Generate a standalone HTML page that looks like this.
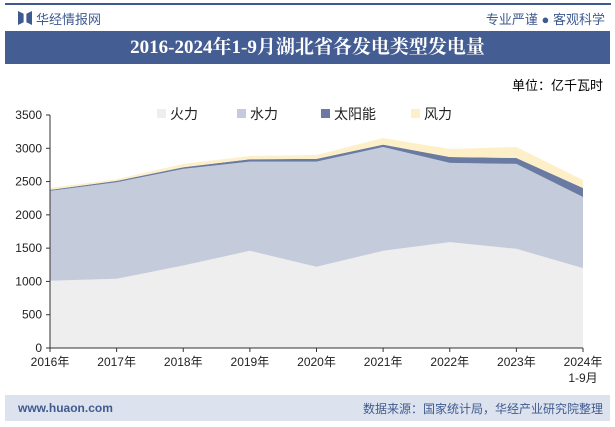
<!DOCTYPE html>
<html><head><meta charset="utf-8"><style>
body{margin:0;width:615px;height:427px;background:#fff;font-family:"Liberation Sans","Noto Sans CJK SC",sans-serif;overflow:hidden;position:relative}
.abs{position:absolute}
</style></head><body>
<div class="abs" style="left:5px;top:3px;width:606px;height:2px;background:#3f5a8f"></div>
<div class="abs" style="left:18px;top:11px;width:14px;height:14px;background:#3f5a8f;clip-path:polygon(0 0,40% 20%,40% 80%,0 100%,0 0,100% 0,100% 100%,60% 80%,60% 20%,100% 0)"></div>
<div class="abs" style="left:36px;top:9px;font-size:13px;color:#3f5a8f">华经情报网</div>
<div class="abs" style="right:10px;top:9px;font-size:13px;color:#3f5a8f">专业严谨 ● 客观科学</div>
<div class="abs" style="left:5px;top:31px;width:605px;height:33px;background:#445d92;color:#fff;font-family:'Liberation Serif','Noto Serif CJK SC',serif;font-weight:bold;font-size:19px;text-align:center;line-height:33px">2016-2024年1-9月湖北省各发电类型发电量</div>
<div class="abs" style="right:12px;top:75px;font-size:13px">单位：亿千瓦时</div>
<svg class="abs" style="left:0;top:0" width="615" height="427" id="chart"></svg>
<div class="abs" style="left:5px;top:395px;width:605px;height:26px;background:#dde3ee"></div>
<div class="abs" style="left:18px;top:401px;font-size:12px;color:#3f5a8f;font-weight:bold">www.huaon.com</div>
<div class="abs" style="right:12px;top:400px;font-size:12px;color:#3f5a8f">数据来源：国家统计局，华经产业研究院整理</div>
<script>
const categories=["2016年","2017年","2018年","2019年","2020年","2021年","2022年","2023年","2024年"];
const thermal=[1010,1040,1240,1460,1220,1460,1590,1490,1200];
const hydro=[1350,1450,1450,1340,1580,1560,1190,1275,1068];
const solar=[15,20,25,35,40,35,90,90,135];
const wind=[30,25,50,50,60,100,120,165,121];
const yTicks=[0,500,1000,1500,2000,2500,3000,3500];
const names=["火力","水力","太阳能","风力"];
const colors=["#eeeeee","#c4cbdb","#6a7ba3","#fdf0c8"];
const NS="http://www.w3.org/2000/svg";
const svg=document.getElementById('chart');
const x0=50,x1=583,yb=348,yt=115;
const X=i=>x0+i*(x1-x0)/(categories.length-1);
const Y=v=>yb-v*(yb-yt)/3500;
function mk(t,a){const e=document.createElementNS(NS,t);for(const k in a)e.setAttribute(k,a[k]);svg.appendChild(e);return e;}
const series=[thermal,hydro,solar,wind];
let base=categories.map(()=>0);
series.forEach((s,si)=>{
  const top=s.map((v,i)=>base[i]+v);
  let pts=top.map((v,i)=>X(i)+","+Y(v));
  for(let i=categories.length-1;i>=0;i--)pts.push(X(i)+","+Y(base[i]));
  const p=mk('polygon',{points:pts.join(' '),fill:colors[si]});
  
  
  base=top;
});
const ax=mk('line',{x1:x0,y1:yt,x2:x0,y2:yb,stroke:'#333'});


const bx=mk('line',{x1:x0,y1:yb,x2:x1,y2:yb,stroke:'#333'});


yTicks.forEach(t=>{
  mk('line',{x1:x0-4,y1:Y(t),x2:x0,y2:Y(t),stroke:'#333'});
  const e=mk('text',{x:x0-8,y:Y(t)+4,'text-anchor':'end','font-size':12,fill:'#222'});
  e.textContent=t;
  
  
});
categories.forEach((c,i)=>{
  mk('line',{x1:X(i),y1:yb,x2:X(i),y2:yb+4,stroke:'#333'});
  const e=mk('text',{x:X(i),y:yb+18,'text-anchor':'middle','font-size':12,fill:'#222'});
  e.textContent=c;
  
  
});
const e2=mk('text',{x:X(8),y:yb+34,'text-anchor':'middle','font-size':12,fill:'#222'});
e2.textContent="1-9月";


const lx=[157,237,321,411];
names.forEach((n,i)=>{
  const r=mk('rect',{x:lx[i],y:109,width:9,height:9,fill:colors[i]});
  
  
  const t=mk('text',{x:lx[i]+13,y:119,'font-size':14,fill:'#222'});
  t.textContent=n;
  
  
});
</script>
</body></html>
